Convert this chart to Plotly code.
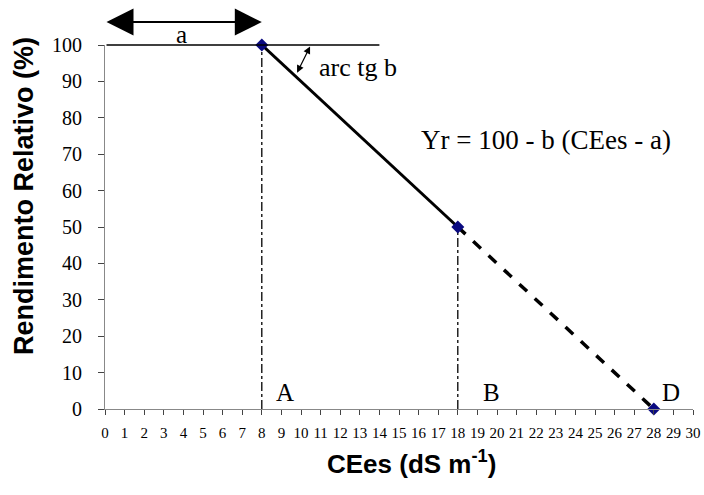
import plotly.graph_objects as go

# Salinity response model (Maas & Hoffman): threshold a, slope b
a_threshold = 8
slope_b = 5

# Key points of the relative-yield curve
ce_points = [8, 18, 28]
yield_points = [100, 50, 0]

x_ticks = list(range(0, 31))
y_ticks = list(range(0, 101, 10))

x_title = "<b>CEes (dS m<sup>-1</sup>)</b>"
y_title = "<b>Rendimento Relativo (%)</b>"

serif = "Liberation Serif, Times New Roman, serif"
sans = "Liberation Sans, Arial, sans-serif"

fig = go.Figure()

# Vertical dash-dot guides at A and B
for xv, yv in [(ce_points[0], yield_points[0]), (ce_points[1], yield_points[1])]:
    fig.add_trace(go.Scatter(
        x=[xv, xv], y=[0, yv], mode="lines",
        line=dict(color="black", width=1.3, dash="dashdot"),
        hoverinfo="skip", showlegend=False))

# Solid segment from threshold to 50 % yield
fig.add_trace(go.Scatter(
    x=ce_points[:2], y=yield_points[:2], mode="lines",
    line=dict(color="black", width=3), showlegend=False))

# Dashed extrapolation to zero yield
fig.add_trace(go.Scatter(
    x=ce_points[1:], y=yield_points[1:], mode="lines",
    line=dict(color="black", width=3.5, dash="dash"), showlegend=False))

# Diamond markers at the key points
fig.add_trace(go.Scatter(
    x=ce_points, y=yield_points, mode="markers",
    marker=dict(symbol="diamond", size=10, color="#0a0a80"),
    cliponaxis=False, showlegend=False))

annotations = []

# 100 % reference line from 0 to 14 dS/m
annotations.append(dict(
    x=14, y=100, ax=0, ay=100, xref="x", yref="y", axref="x", ayref="y",
    text="", showarrow=True, arrowhead=0, arrowwidth=1.3, arrowcolor="black",
    standoff=0, startstandoff=0))

# Double arrow spanning the threshold "a" (above the plotting area)
annotations.append(dict(
    x=a_threshold, y=1.063, ax=0, ay=0, xref="x", yref="paper", axref="x", ayref="pixel",
    text="", showarrow=True, arrowhead=2, arrowside="end+start", arrowsize=2.7,
    arrowwidth=2, arrowcolor="black", standoff=0, startstandoff=0))
annotations.append(dict(
    x=3.9, y=1.03, xref="x", yref="paper", yanchor="middle", text="a", showarrow=False,
    font=dict(family=serif, size=25, color="black")))

# Angle arrow "arc tg b"
annotations.append(dict(
    x=9.8, y=92.4, ax=10.5, ay=100, xref="x", yref="y", axref="x", ayref="y",
    text="", showarrow=True, arrowhead=2, arrowside="end+start", arrowsize=1.2,
    arrowwidth=1.2, arrowcolor="black", standoff=0, startstandoff=0))
annotations.append(dict(
    x=10.8, y=93.9, xref="x", yref="y", text="arc tg b", showarrow=False,
    xanchor="left", font=dict(family=serif, size=26, color="black")))

# Model equation
annotations.append(dict(
    x=22.5, y=73.9, xref="x", yref="y", text="Yr = 100 - b (CEes - a)",
    showarrow=False, font=dict(family=serif, size=27, color="black")))

# Point letters
for lbl, xv in [("A", 9.2), ("B", 19.7), ("D", 28.9)]:
    annotations.append(dict(
        x=xv, y=4.6, xref="x", yref="y", text=lbl, showarrow=False,
        font=dict(family=serif, size=25, color="black")))

# Axis titles (plot area spans 105..693 px horizontally, 45..409 px vertically)
annotations.append(dict(
    x=(411 - 105) / 588, y=(409 - 462) / 364, xref="paper", yref="paper",
    xanchor="center", yanchor="middle",
    text=x_title, showarrow=False, font=dict(family=sans, size=26, color="black")))
annotations.append(dict(
    x=(24 - 105) / 588, y=0.585, xref="paper", yref="paper",
    xanchor="center", yanchor="middle",
    text=y_title, showarrow=False, textangle=-90,
    font=dict(family=sans, size=27, color="black")))

fig.update_layout(
    width=704, height=495,
    margin=dict(l=105, r=11, t=45, b=86),
    paper_bgcolor="white", plot_bgcolor="white",
    annotations=annotations,
    showlegend=False,
    xaxis=dict(
        range=[0, 30], tickvals=x_ticks, ticktext=[str(v) for v in x_ticks],
        ticks="outside", ticklen=5, tickcolor="#444", showgrid=False, zeroline=False,
        showline=True, linecolor="#888", linewidth=1, automargin=False,
        ticklabelstandoff=5,
        tickfont=dict(family=serif, size=15, color="black")),
    yaxis=dict(
        range=[0, 100], tickvals=y_ticks, ticks="outside", ticklen=6, tickcolor="#444",
        showgrid=False, zeroline=False, showline=True, linecolor="#888", linewidth=1,
        automargin=False, ticklabelstandoff=12,
        tickfont=dict(family=serif, size=20, color="black")),
)

fig.write_html("out.html")
